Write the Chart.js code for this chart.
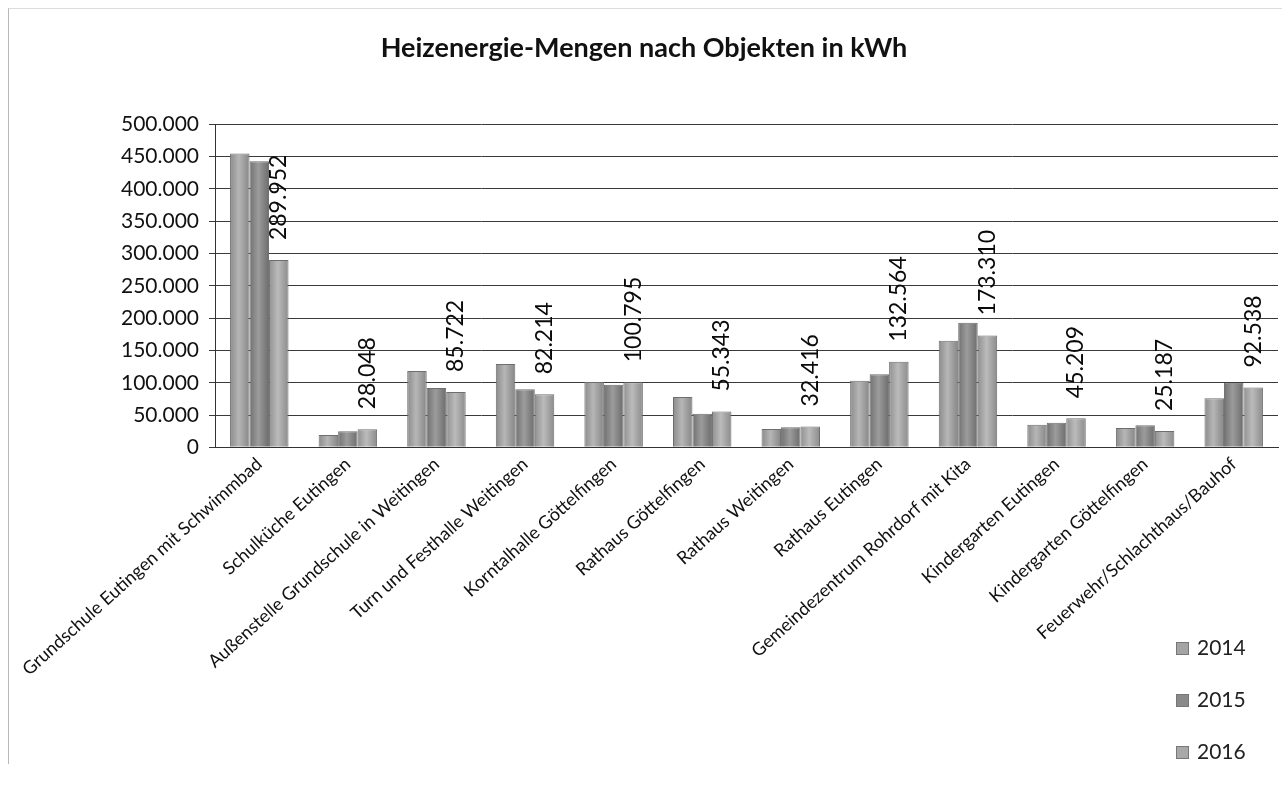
<!DOCTYPE html>
<html lang="de">
<head>
<meta charset="UTF-8">
<title>Heizenergie-Mengen nach Objekten in kWh</title>
<script src="https://cdn.jsdelivr.net/npm/chart.js"></script>
<style>
  html, body { margin: 0; padding: 0; background: #fff; }
  #wrap { position: relative; width: 1282px; height: 789px; }
  #frame { position: absolute; left: 8px; top: 8px; width: 1274px; height: 755px;
           border-left: 1px solid #b8b8b8; border-top: 1px solid #dcdcdc; pointer-events: none; }
  #legend { position: absolute; left: 1176px; top: 634px; font-family: Lato, sans-serif;
            font-size: 21px; color: #222; }
  #legend div { height: 52px; display: flex; align-items: flex-start; }
  #legend span.sw { display: inline-block; width: 11px; height: 11px; margin: 8px 8px 0 0;
                    border: 1px solid #777; }
</style>
</head>
<body>
<div id="wrap">
  <canvas id="myChart" width="1282" height="789"></canvas>
  <div id="frame"></div>
  <div id="legend"></div>
</div>
<script>
// Objekte
var objekte = [
    'Grundschule Eutingen mit Schwimmbad',
    'Schulküche Eutingen',
    'Außenstelle Grundschule in Weitingen',
    'Turn und Festhalle Weitingen',
    'Korntalhalle Göttelfingen',
    'Rathaus Göttelfingen',
    'Rathaus Weitingen',
    'Rathaus Eutingen',
    'Gemeindezentrum Rohrdorf mit Kita',
    'Kindergarten Eutingen',
    'Kindergarten Göttelfingen',
    'Feuerwehr/Schlachthaus/Bauhof'
];
var jahre = ['2014', '2015', '2016'];
var werte2014 = [455000, 19000, 118000, 129000, 101000, 78000, 28500, 103000, 165000, 35000, 30000, 76000];
var werte2015 = [443000, 25000, 92000, 90000, 97000, 52000, 31000, 113000, 193000, 38000, 34000, 100000];
var werte2016 = [289952, 28048, 85722, 82214, 100795, 55343, 32416, 132564, 173310, 45209, 25187, 92538];
var yTicks = [0, 50000, 100000, 150000, 200000, 250000, 300000, 350000, 400000, 450000, 500000];

var farben = ['#a4a4a4', '#8a8a8a', '#a9a9a9'];
var schrift = 'Lato, "Open Sans", sans-serif';

function punkt(v) {
    return String(v).replace(/\B(?=(\d{3})+(?!\d))/g, '.');
}

function heller(hex, d) {
    var n = parseInt(hex.slice(1, 3), 16) + d;
    n = Math.max(0, Math.min(255, n));
    return 'rgb(' + n + ',' + n + ',' + n + ')';
}

// Säulen wie Zylinder schattieren
var zylinder = {
    id: 'zylinder',
    beforeDatasetsDraw: function(chart) {
        var ctx = chart.ctx;
        chart.data.datasets.forEach(function(ds, di) {
            chart.getDatasetMeta(di).data.forEach(function(bar) {
                var l = bar.x - bar.width / 2, r = bar.x + bar.width / 2;
                var g = ctx.createLinearGradient(l, 0, r, 0);
                g.addColorStop(0, heller(farben[di], -25));
                g.addColorStop(0.45, heller(farben[di], 18));
                g.addColorStop(1, heller(farben[di], -30));
                bar.options.backgroundColor = g;
            });
        });
    }
};

// Beschriftung der 2016-Säulen, senkrecht
var beschriftung = {
    id: 'beschriftung',
    afterDatasetsDraw: function(chart) {
        var ctx = chart.ctx;
        var meta = chart.getDatasetMeta(2);
        ctx.save();
        ctx.font = '23px ' + schrift;
        ctx.fillStyle = '#0a0a0a';
        ctx.textAlign = 'left';
        ctx.textBaseline = 'middle';
        meta.data.forEach(function(bar, i) {
            ctx.save();
            ctx.translate(bar.x, bar.y - 20);
            ctx.rotate(-Math.PI / 2);
            ctx.fillText(punkt(werte2016[i]), 0, 0);
            ctx.restore();
        });
        ctx.restore();
    }
};

function farbe(di) {
    // als Funktion, damit jede Säule eigene Optionen bekommt
    return function() { return farben[di]; };
}

var grafico = document.getElementById('myChart').getContext('2d');
var myChart = new Chart(grafico, {
    type: 'bar',
    data: {
        labels: objekte,
        datasets: [
            { label: jahre[0], data: werte2014, backgroundColor: farbe(0) },
            { label: jahre[1], data: werte2015, backgroundColor: farbe(1) },
            { label: jahre[2], data: werte2016, backgroundColor: farbe(2) }
        ]
    },
    options: {
        responsive: false,
        animation: false,
        layout: { padding: { left: 10, right: 4, top: 0, bottom: 103 } },
        datasets: {
            bar: {
                categoryPercentage: 0.66,
                barPercentage: 1.0,
                borderColor: '#6e6e6e',
                borderWidth: 1
            }
        },
        plugins: {
            legend: { display: false },
            tooltip: { enabled: false },
            title: {
                display: true,
                text: 'Heizenergie-Mengen nach Objekten in kWh',
                color: '#111',
                font: { family: schrift, size: 27, weight: 'bold' },
                padding: { top: 32, bottom: 60 }
            }
        },
        scales: {
            x: {
                grid: { display: false, drawTicks: false },
                border: { color: '#333', width: 1 },
                ticks: {
                    color: '#111',
                    font: { family: schrift, size: 18 },
                    minRotation: 42,
                    maxRotation: 42,
                    autoSkip: false,
                    padding: 6
                }
            },
            y: {
                min: 0,
                max: 500000,
                afterBuildTicks: function(axis) {
                    axis.ticks = yTicks.map(function(v) { return { value: v }; });
                },
                afterFit: function(axis) {
                    axis.width = 205;
                },
                grid: { color: '#3a3a3a', lineWidth: 1, tickLength: 6 },
                border: { color: '#333', width: 1 },
                ticks: {
                    color: '#111',
                    font: { family: schrift, size: 21 },
                    padding: 10,
                    callback: function(v) { return punkt(v); }
                }
            }
        }
    },
    plugins: [zylinder, beschriftung]
});

var leg = document.getElementById('legend');
jahre.forEach(function(j, i) {
    var d = document.createElement('div');
    d.innerHTML = '<span class="sw" style="background:' + farben[i] + '"></span>' + j;
    leg.appendChild(d);
});
</script>
</body>
</html>
